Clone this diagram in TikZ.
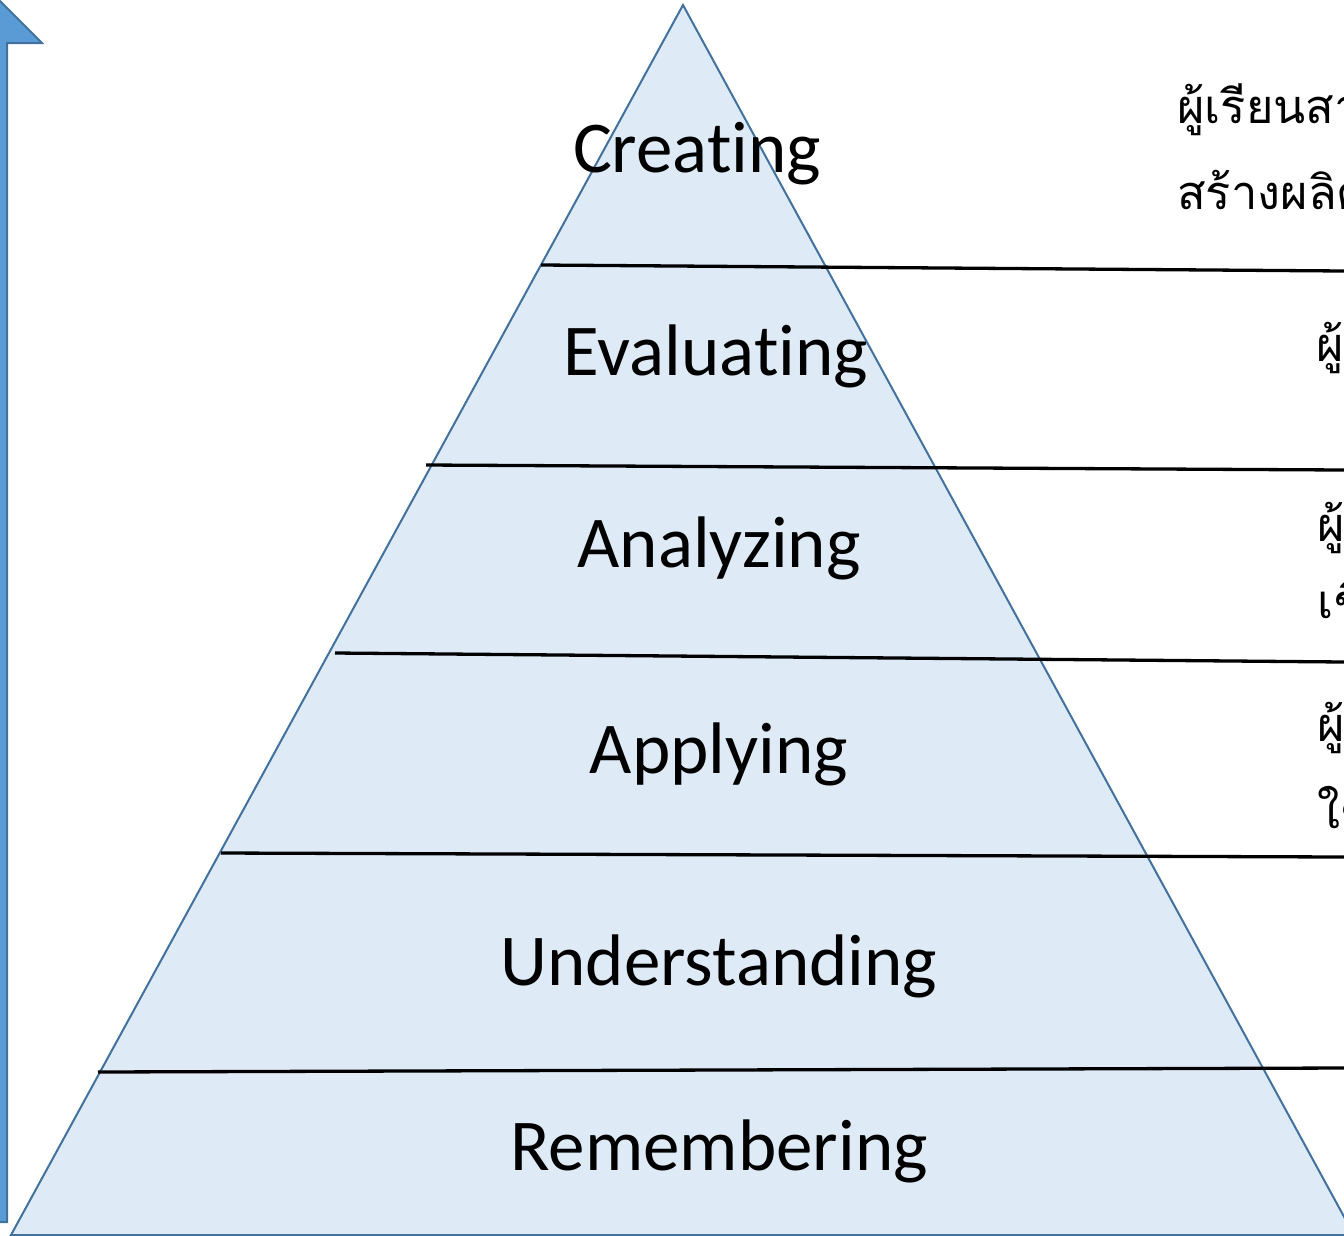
\documentclass[tikz,border=0pt]{standalone}
\usepackage{fontspec}
\setmainfont[RawFeature={-liga;-clig;-calt;-dlig}]{Carlito}
\newfontfamily\thaifont[Script=Thai]{Loma}
\usetikzlibrary{positioning}
\definecolor{pyrfill}{HTML}{DEEBF7}
\definecolor{pyredge}{HTML}{41719C}
\definecolor{arrfill}{HTML}{5B9BD5}
\tikzset{
  lvl/.style={font=\fontsize{73}{88}\selectfont, anchor=base, inner sep=0pt},
  desc/.style={font=\thaifont\fontsize{47}{60}\selectfont, anchor=base west, inner sep=0pt},
  sepline/.style={line width=3.3pt, black},
}
\begin{document}
\begin{tikzpicture}[x=1pt,y=-1pt]
  \useasboundingbox (0,0) rectangle (1344,1235);
  \clip (0,0) rectangle (1344,1235);
  % arrow on the left
  \draw[fill=arrfill, draw=pyredge, line width=2pt]
    (-45,1222) -- (-45,43) -- (-90,43) -- (-24,-23) -- (42,43) -- (7,43) -- (7,1222) -- cycle;
  % pyramid
  \draw[fill=pyrfill, draw=pyredge, line width=2pt]
    (683,5) -- (11,1235) -- (1354,1235) -- cycle;
  % levels
  \draw[sepline] (541,265) -- (1344,271);
  \draw[sepline] (426,465) -- (1344,470);
  \draw[sepline] (335,653) -- (1344,662);
  \draw[sepline] (221,853) -- (1344,857);
  \draw[sepline] (98,1072) -- (1344,1068);
  \node[lvl] (creating) at (697,172) {Creat\kern0pt ing};
  \node[lvl] (evaluating) at (716,375) {Evaluat\kern0pt ing};
  \node[lvl] (analyzing) at (719,567) {Analyzing};
  \node[lvl] (applying) at (719,773) {Applying};
  \node[lvl] (understanding) at (719,985) {Understanding};
  \node[lvl] (remembering) at (719,1170) {Remembering};
  % descriptions
  \node[desc] (creating-a) at (1177,123) {ผู้เรียนสามารถรวบรวมความรู้};
  \node[desc] (creating-b) at (1177,209) {สร้างผลิตภัณฑ์ใหม่};
  \node[desc] (evaluating-a) at (1316,361) {ผู้เรียนสามารถตัดสินคุณค่า};
  \node[desc] (analyzing-a) at (1317,541) {ผู้เรียนสามารถแยกแยะ};
  \node[desc] (analyzing-b) at (1317,618) {เชื่อมโยงความสัมพันธ์};
  \node[desc] (applying-a) at (1317,741) {ผู้เรียนสามารถนำความรู้};
  \node[desc] (applying-b) at (1317,828) {ใช้ในสถานการณ์ใหม่};
\end{tikzpicture}
\end{document}
